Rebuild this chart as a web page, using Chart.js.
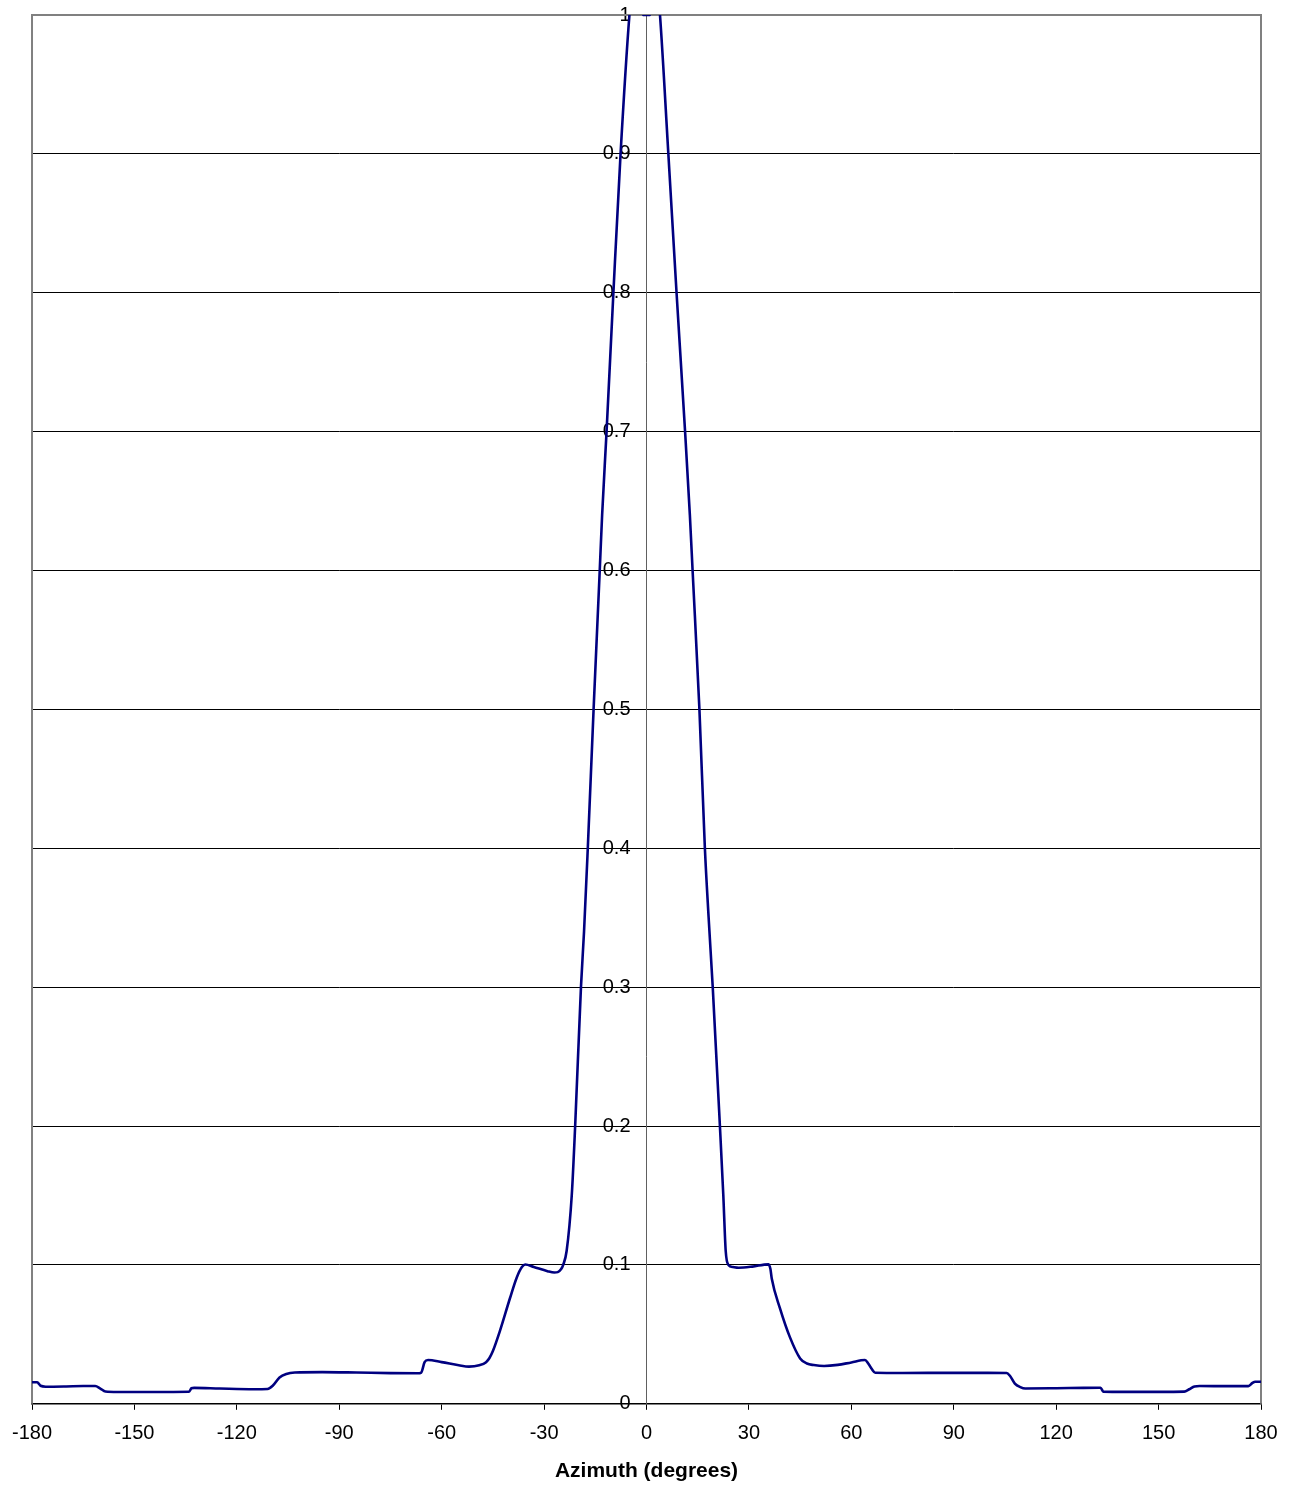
<!DOCTYPE html>
<html>
<head>
<meta charset="utf-8">
<style>
  html, body { margin: 0; padding: 0; background: #ffffff; }
  #wrap { width: 1293px; height: 1488px; position: relative; }
</style>
<script src="https://cdn.jsdelivr.net/npm/chart.js@4/dist/chart.umd.min.js"></script>
</head>
<body>
<div id="wrap"><canvas id="c" width="1293" height="1488"></canvas></div>
<script>
// Azimuth (degrees)
const azimuth = [
  -180, -178.5, -177.5, -176, -170, -165, -161.5, -160, -158.5, -155, -145, -134, -133.3, -132.5,
  -125, -115, -111, -109.5, -107.5, -105.5, -103, -95, -85, -75, -67, -66, -65, -64, -60, -55,
  -52, -49, -47, -46, -45, -43, -40, -38, -36.5, -35.5, -33, -29, -27, -26, -25, -24.4, -23.4,
  -21.9, -20.9, -19.2, -18.3, -17.2, -15.5, -13.7, -13.0, -11.7, -9.7, -7.6, -5.0, -3, -1,
  1, 2.5, 3.95, 6.4, 8.8, 11.3, 12.7, 13.5, 15.5, 17.1, 18.2, 19.4, 21.5, 22.5, 23.2, 24.0,
  25.3, 27, 31, 35.7, 36.3, 36.7, 39.1, 42, 45, 47, 49, 52, 56, 60, 64, 65, 66, 67,
  75, 90, 100, 105.5, 106.5, 107.9, 109.5, 111, 120, 128, 133, 133.8, 140, 150, 157.5, 159,
  160.5, 162, 170, 176.3, 177.5, 178.3, 180
];
// Normalised response
const response = [
  0.0155, 0.0155, 0.0130, 0.0123, 0.0125, 0.0128, 0.0128, 0.0110, 0.0088, 0.0085, 0.0085, 0.0087, 0.0112, 0.0115,
  0.0110, 0.0105, 0.0107, 0.0130, 0.0190, 0.0215, 0.0225, 0.0228, 0.0225, 0.0221, 0.0220, 0.0225, 0.0300, 0.0315, 0.0300, 0.0278,
  0.0268, 0.0278, 0.0300, 0.0330, 0.0380, 0.0520, 0.0760, 0.0910, 0.0985, 0.1003, 0.0985, 0.0955, 0.0945, 0.0948, 0.0970, 0.1000, 0.1100,
  0.150, 0.200, 0.300, 0.340, 0.400, 0.500, 0.600, 0.640, 0.700, 0.800, 0.900, 1.000, 1.050, 1.000,
  1.000, 1.040, 1.000, 0.900, 0.800, 0.700, 0.640, 0.600, 0.500, 0.400, 0.350, 0.300, 0.200, 0.150, 0.110, 0.100,
  0.0985, 0.0980, 0.0988, 0.1004, 0.0970, 0.0900, 0.0687, 0.0480, 0.0327, 0.0290, 0.0279, 0.0272, 0.0280, 0.0298, 0.0315, 0.0288, 0.0250, 0.0224,
  0.0222, 0.0223, 0.0223, 0.0222, 0.0200, 0.0146, 0.0120, 0.0110, 0.0112, 0.0115, 0.0116, 0.0088, 0.0086, 0.0086, 0.0088, 0.0105,
  0.0125, 0.0128, 0.0127, 0.0127, 0.0150, 0.0159, 0.0159
];
const xTicks = [-180, -150, -120, -90, -60, -30, 0, 30, 60, 90, 120, 150, 180];
const yTicks = [0, 0.1, 0.2, 0.3, 0.4, 0.5, 0.6, 0.7, 0.8, 0.9, 1];
const xTitle = 'Azimuth (degrees)';

const points = azimuth.map((a, i) => ({ x: a, y: response[i] }));

const framePlugin = {
  id: 'frame',
  beforeDraw(chart) {
    // move the y tick labels left of the tick marks of the centred axis
    const items = chart.scales.y.getLabelItems();
    items.forEach(it => {
      if (!it._shifted && it.options && it.options.translation) {
        it.options.translation[0] -= 16;
        it._shifted = true;
      }
    });
  },
  beforeDatasetsDraw(chart) {
    const { ctx, chartArea: a } = chart;
    ctx.save();
    ctx.strokeStyle = '#808080';
    ctx.lineWidth = 2;
    ctx.beginPath();
    ctx.moveTo(a.left, a.bottom);
    ctx.lineTo(a.left, a.top);
    ctx.lineTo(a.right, a.top);
    ctx.lineTo(a.right, a.bottom);
    ctx.stroke();
    ctx.restore();
  }
};

const FONT = "'Liberation Sans', Arial, sans-serif";

new Chart(document.getElementById('c'), {
  type: 'line',
  data: {
    datasets: [{
      data: points,
      borderColor: '#000080',
      borderWidth: 2.6,
      pointRadius: 0,
      fill: false,
      cubicInterpolationMode: 'monotone',
      clip: 0
    }]
  },
  options: {
    responsive: false,
    animation: false,
    events: [],
    layout: { padding: { left: 32, right: 32, top: 15, bottom: 0 } },
    plugins: { legend: { display: false }, tooltip: { enabled: false } },
    scales: {
      x: {
        type: 'linear',
        min: -180, max: 180,
        afterBuildTicks(scale) { scale.ticks = xTicks.map(v => ({ value: v })); },
        ticks: { color: '#000', font: { family: FONT, size: 20 }, padding: 12, maxRotation: 0, autoSkip: false },
        grid: { drawOnChartArea: false, drawTicks: true, tickLength: 6, color: '#000', lineWidth: 1 },
        border: { color: '#000', width: 1.5 },
        title: { display: true, text: xTitle, color: '#000', font: { family: FONT, size: 21, weight: 'bold' }, padding: { top: 1, bottom: 4 } }
      },
      y: {
        type: 'linear',
        position: { x: 0 },
        min: 0, max: 1,
        afterBuildTicks(scale) { scale.ticks = yTicks.map(v => ({ value: v })); },
        ticks: { color: '#000', font: { family: FONT, size: 20, lineHeight: 0.5 }, padding: 8, autoSkip: false,
                 callback: v => String(Math.round(v * 10) / 10) },
        grid: { drawOnChartArea: true, drawTicks: true, tickLength: 6, color: '#000', lineWidth: 1 },
        border: { color: '#606060', width: 1 }
      }
    }
  },
  plugins: [framePlugin]
});
</script>
</body>
</html>
